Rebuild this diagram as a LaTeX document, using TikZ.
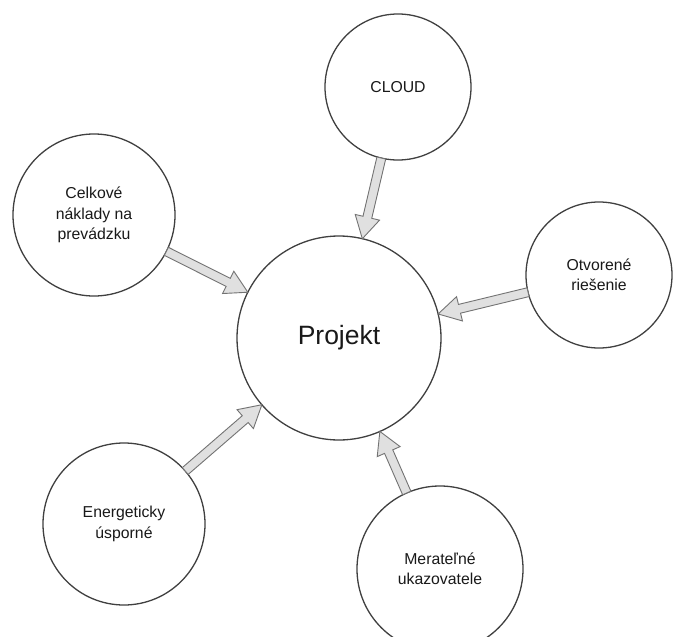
\documentclass[tikz,border=0pt]{standalone}
\usepackage{fontspec}
\setmainfont{Liberation Sans}
\usetikzlibrary{calc}
\newcommand\blockarr[2]{%
  \path (#1) -- (#2) coordinate[pos=0] (ba-s) coordinate[pos=1] (ba-e);
  \coordinate (ba-m) at ($(ba-e)!22pt!(ba-s)$);
  \draw[barrow] ($(ba-s)!4.5pt!90:(ba-e)$) -- ($(ba-m)!4.5pt!90:(ba-e)$)
    -- ($(ba-m)!12.5pt!90:(ba-e)$) -- (ba-e) -- ($(ba-m)!12.5pt!-90:(ba-e)$)
    -- ($(ba-m)!4.5pt!-90:(ba-e)$) -- ($(ba-s)!4.5pt!-90:(ba-e)$) -- cycle;
}
\begin{document}
\begin{tikzpicture}[x=1pt,y=-1pt,
  bub/.style={circle, draw=black!75, line width=1.3pt, fill=white, inner sep=0pt,
    outer sep=0pt, minimum size=#1, align=center,
    font=\fontsize{15.8}{20.5}\selectfont, text=black!90},
  barrow/.style={draw=black!55, fill=black!12, line width=0.9pt, line join=miter}]
\useasboundingbox (0,0) rectangle (675,637);
\fill[white] (0,0) rectangle (675,637);
\node[bub=204pt, font=\fontsize{26.5}{30}\selectfont] (proj) at (339,338) {Projekt};
\node[bub=146pt] (cloud) at (398,87) {CLOUD};
\node[bub=162pt] (celk) at (94,215) {Celkové\\náklady na\\prevádzku};
\node[bub=146pt] (otv) at (599,275) {Otvorené\\riešenie};
\node[bub=162pt] (ener) at (124,524) {Energeticky\\úsporné};
\node[bub=166pt] (mer) at (440,569) {Merateľné\\ukazovatele};
\blockarr{cloud}{proj}
\blockarr{celk}{proj}
\blockarr{otv}{proj}
\blockarr{ener}{proj}
\blockarr{mer}{proj}
\end{tikzpicture}
\end{document}
